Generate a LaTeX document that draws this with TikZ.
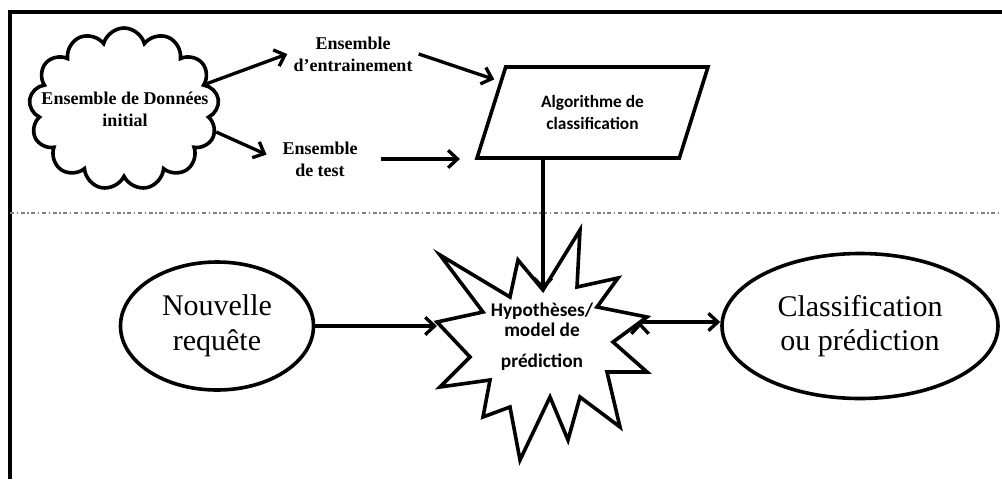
\documentclass[tikz,border=0pt]{standalone}
\usepackage{fontspec}
\setmainfont{Liberation Serif}
\newfontfamily\calibri{Carlito}
\usetikzlibrary{arrows, arrows.meta, positioning, shapes.geometric, shapes.symbols}

\begin{document}
\begin{tikzpicture}[x=0.75pt,y=-0.75pt,line width=2.7pt]
    \tikzstyle{bubble}=[shape=ellipse,draw,inner sep=0pt,font=\fontsize{22.5}{26}\selectfont,align=center]
    \tikzstyle{setlabel}=[font=\bfseries\fontsize{13.5}{16.5}\selectfont,align=center]
    \tikzstyle{arrow}=[-{Straight Barb[length=7pt,width=13pt]},draw,line width=2.5pt]

    \useasboundingbox (0,0) rectangle (1002,479);
    % cadre
    \draw[line width=2.8pt] (10,479) -- (10,12) -- (1002,12);
    \draw[gray,line width=1pt,dash dot] (10,213) -- (1002,213);

    \node[cloud,draw,cloud puffs=13,cloud ignores aspect,minimum width=142.5pt,minimum height=121.5pt] (data) at (124,109) {};
    \node[setlabel] (datatxt) at (125,109) {Ensemble de Données\\initial};
    \node[setlabel] (train) at (353,54) {Ensemble\\d’entrainement};
    \node[setlabel] (test) at (320,159) {Ensemble\\de test};
    \node[trapezium,draw,trapezium left angle=63.7,trapezium right angle=116.3,trapezium stretches=true,
          minimum width=173.25pt,minimum height=68.25pt,inner sep=0pt,
          font=\calibri\bfseries\fontsize{13}{16.5}\selectfont,align=center] (algo) at (592.5,112.5) {Algorithme de\\classification};

    % etoile
    \draw[fill=white,line join=miter] (440,255) -- (510,297) -- (518,260) -- (543,290) -- (580,230) -- (577,287)
      -- (618,278) -- (597,307) -- (647,317) -- (613,342) -- (647,372) -- (607,372) -- (620,427) -- (580,397)
      -- (568,440) -- (550,397) -- (520,460) -- (510,407) -- (483,417) -- (490,380) -- (440,387) -- (470,357)
      -- (437,322) -- (483,312) -- cycle;
    \coordinate (hypN) at (543,290);
    \coordinate (hypW) at (437,325);
    \coordinate (hypE) at (640,322);
    \node[font=\calibri\bfseries\fontsize{14.5}{15}\selectfont,align=center] (hyp) at (542,337) {Hypothèses/\\model de\\[8pt]prédiction};

    \node[bubble,minimum width=144.75pt,minimum height=96pt] (req) at (217,326) {Nouvelle\\requête};
    \node[bubble,minimum width=207pt,minimum height=108.75pt] (res) at (860,326) {Classification\\ou prédiction};

    \path[arrow]
    (data.17) edge (train.west)
    (data.-14) edge[shorten >=8pt] (test.west)
    (train.east) edge[shorten >=4pt] (algo)
    ([xshift=13pt]test.east) edge ([xshift=-11pt]test.east -| algo.bottom left corner)
    (algo.south -| hypN) edge (hypN)
    (req.east -| req.east) edge (req.east -| hypW)
    (hypE) edge (hypE -| res.west)
    ;
\end{tikzpicture}
\end{document}
